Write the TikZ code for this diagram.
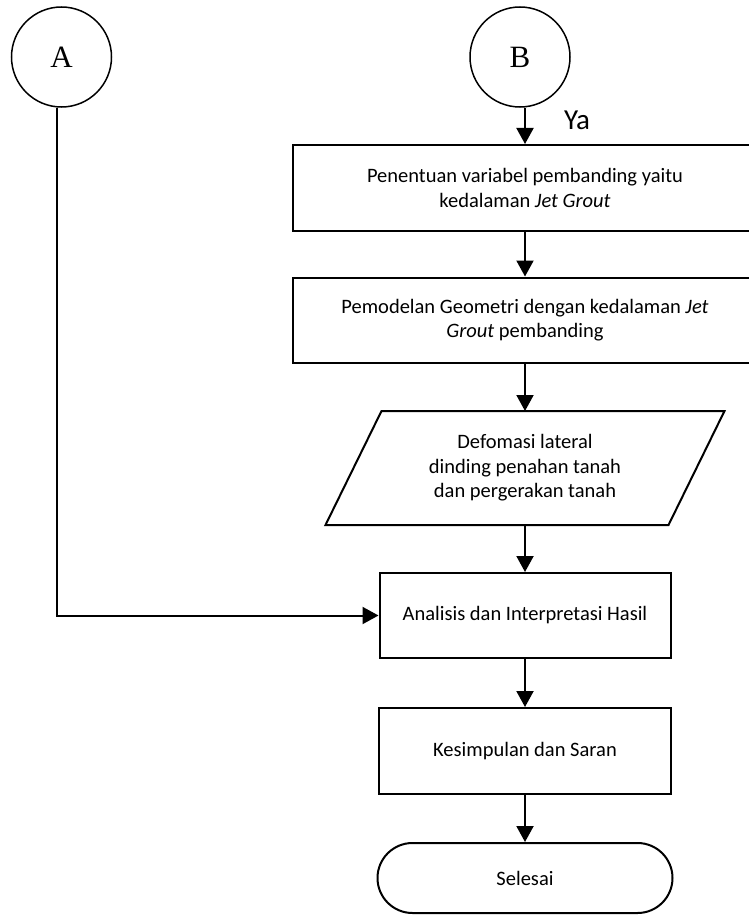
\documentclass[tikz,border=0pt]{standalone}
\usepackage{fontspec}
\setmainfont{Carlito}
\newfontfamily\serifA{Liberation Serif}
\usetikzlibrary{arrows.meta,calc}
\begin{document}
\begin{tikzpicture}[x=1pt,y=-1pt,
  line width=2pt,
  arr/.style={-{Triangle[length=16pt,width=17pt]}},
  proc/.style={draw, rectangle, align=center, inner sep=0pt,
    font=\fontsize{20.5}{24.5}\selectfont},
  conn/.style={draw, circle, minimum size=100pt, inner sep=0pt, line width=1.5pt,
    font=\serifA\fontsize{31}{31}\selectfont},
]
\clip (0,0) rectangle (749,915);
\node[conn] (A) at (61.5,57) {A};
\node[conn] (B) at (520,57) {B};
\node[proc, minimum width=464pt, minimum height=86pt] (p1) at (525,188)
  {Penentuan variabel pembanding yaitu\\kedalaman \textit{Jet Grout}};
\node[proc, minimum width=464pt, minimum height=85pt] (p2) at (525,320)
  {Pemodelan Geometri dengan kedalaman \textit{Jet}\\\textit{Grout} pembanding};
\node[align=center, inner sep=0pt, minimum width=397pt, minimum height=112pt,
  font=\fontsize{20.5}{24.5}\selectfont] (io) at (525,468)
  {Defomasi lateral\\dinding penahan tanah\\dan pergerakan tanah};
\draw ($(io.north west)+(56,0)$) -- (io.north east) -- ($(io.south east)+(-56,0)$) -- (io.south west) -- cycle;
\node[proc, minimum width=291pt, minimum height=85pt] (an) at (525,615.5)
  {Analisis dan Interpretasi Hasil};
\node[proc, minimum width=292pt, minimum height=86pt] (ks) at (525,751)
  {Kesimpulan dan Saran};
\node[proc, rounded corners=35pt, minimum width=295pt, minimum height=70pt] (end) at (525,878)
  {Selesai};
\node[anchor=base west, inner sep=0pt, font=\fontsize{29}{29}\selectfont] (ya) at (563,130) {Ya};
\coordinate (a0) at ($(A.south)+(-4.5,0)$);
\draw[arr] (B.south -| p1.north) -- (p1.north);
\draw[arr] (p1.south) -- (p2.north);
\draw[arr] (p2.south) -- (io.north);
\draw[arr] (io.south) -- (an.north);
\draw[arr] (an.south) -- (ks.north);
\draw[arr] (ks.south) -- (end.north);
\draw[arr] (a0) |- (an.west);
\end{tikzpicture}
\end{document}
